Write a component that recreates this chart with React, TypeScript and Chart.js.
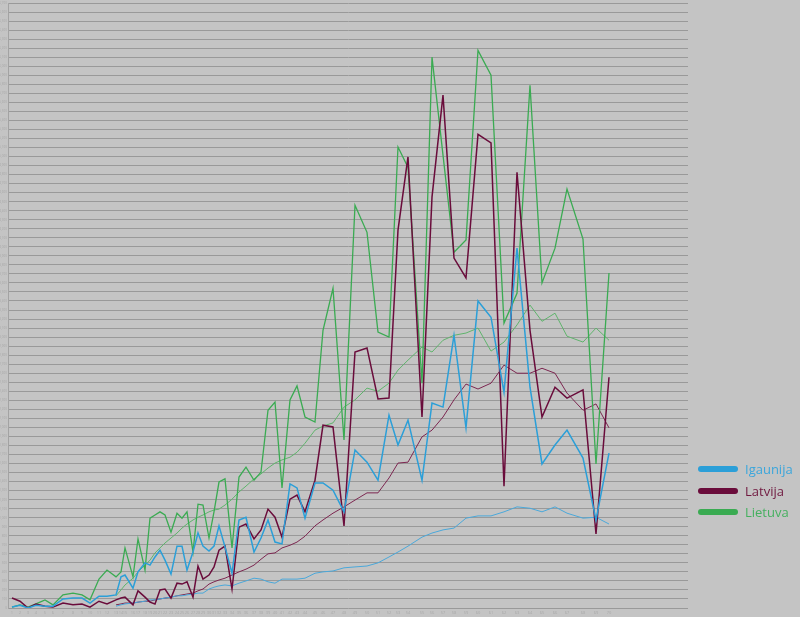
import React, { useEffect, useRef } from "react";
import { Chart, registerables } from "chart.js";

Chart.register(...registerables);

// x position of each period along the (uneven) horizontal axis
const periods = [
  4, 12, 20, 28, 37, 45, 55, 65, 74, 82, 91, 99, 108, 113, 117, 125, 130, 137, 142, 147,
  152, 157, 163, 169, 174, 179, 185, 190, 195, 201, 206, 211, 217, 224, 231, 238, 246, 253, 260, 267,
  274, 282, 289, 297, 307, 315, 325, 336, 347, 359, 370, 381, 390, 400, 414, 424, 435, 446, 458, 470,
  483, 496, 509, 522, 534, 547, 559, 575, 588, 601,
];
const periodLabels = periods.map((_, i) => String(i + 1));

const igaunija = [
  10, 30, 0, 30, 20, 20, 100, 110, 110, 55, 130, 130, 145, 345, 365, 220, 400, 500, 475, 565,
  640, 530, 375, 685, 685, 420, 620, 830, 685, 630, 685, 910, 675, 385, 975, 1005, 620, 775, 975, 730,
  710, 1375, 1330, 995, 1385, 1385, 1305, 1065, 1750, 1615, 1415, 2135, 1805, 2080, 1415, 2270, 2225, 3020, 1995, 3400,
  3220, 2390, 3985, 2445, 1595, 1805, 1970, 1660, 975, 1715,
];
const latvija = [
  110, 75, 0, 45, 20, 10, 55, 35, 45, 10, 75, 45, 90, 110, 120, 35, 190, 120, 65, 45,
  200, 210, 110, 275, 265, 290, 120, 465, 320, 365, 455, 640, 685, 210, 895, 930, 765, 865, 1095, 1005,
  785, 1205, 1250, 1065, 1415, 2025, 2005, 910, 2835, 2880, 2315, 2325, 4185, 4995, 2115, 4550, 5680, 3875, 3655, 5245,
  5150, 1350, 4825, 3075, 2115, 2445, 2325, 2415, 820, 2555,
];
const lietuva = [
  10, 35, 10, 45, 90, 35, 145, 165, 145, 90, 320, 420, 345, 400, 665, 345, 765, 420, 995, 1030,
  1065, 1030, 840, 1050, 995, 1065, 620, 1150, 1140, 775, 1065, 1395, 1430, 665, 1450, 1560, 1415, 1505, 2190, 2280,
  1330, 2305, 2460, 2115, 2060, 3075, 3540, 1860, 4460, 4160, 3055, 3000, 5105, 4880, 2490, 6100, 5015, 3940, 4075, 6175,
  5900, 3155, 3485, 5790, 3600, 3985, 4640, 4085, 1595, 3710,
];

// smoothed trend lines (start at the 13th period)
const igaunijaTrend = [
  null, null, null, null, null, null, null, null, null, null, null, null, 20, 35, 45, 55, 65, 75, 90, 90,
  100, 110, 120, 135, 135, 145, 155, 165, 165, 210, 230, 245, 255, 245, 275, 300, 330, 320, 290, 275,
  320, 320, 320, 330, 385, 400, 410, 445, 455, 465, 500, 565, 620, 685, 785, 830, 865, 885, 995, 1020,
  1020, 1065, 1120, 1105, 1065, 1120, 1050, 995, 1005, 930,
];
const latvijaTrend = [
  null, null, null, null, null, null, null, null, null, null, null, null, 35, 45, 55, 55, 65, 75, 75, 90,
  100, 110, 120, 135, 145, 155, 165, 190, 210, 265, 290, 310, 330, 365, 400, 430, 475, 540, 600, 610,
  665, 695, 730, 795, 910, 975, 1050, 1120, 1195, 1275, 1275, 1440, 1605, 1615, 1895, 1970, 2115, 2305, 2480, 2425,
  2490, 2690, 2600, 2600, 2655, 2600, 2380, 2190, 2260, 1995,
];
const lietuvaTrend = [
  null, null, null, null, null, null, null, null, null, null, null, null, 135, 200, 255, 330, 400, 475, 530, 610,
  665, 720, 775, 830, 885, 930, 975, 1005, 1030, 1065, 1085, 1095, 1140, 1205, 1285, 1350, 1430, 1485, 1550, 1605,
  1640, 1670, 1725, 1825, 1970, 2015, 2050, 2225, 2305, 2435, 2400, 2490, 2635, 2745, 2890, 2835, 2965, 3020, 3045, 3100,
  2845, 2945, 3135, 3355, 3175, 3265, 3010, 2945, 3100, 2965,
];

const BLUE = "#2b9fd8";
const MAROON = "#6a0c3b";
const GREEN = "#3aab52";

const legendItems = [
  { label: "Igaunija", color: BLUE, text: "#3aa6dc" },
  { label: "Latvija", color: MAROON, text: "#70183f" },
  { label: "Lietuva", color: GREEN, text: "#45b05f" },
];

function pts(values: (number | null)[]) {
  return periods.map((x, i) => ({ x, y: values[i] }));
}

export default function App() {
  const ref = useRef<HTMLCanvasElement | null>(null);

  useEffect(() => {
    if (!ref.current) return;
    const chart = new Chart(ref.current, {
      type: "line",
      data: {
        datasets: [
          { label: "Igaunija", data: pts(igaunija) as any, borderColor: BLUE, borderWidth: 1.5 },
          { label: "Latvija", data: pts(latvija) as any, borderColor: MAROON, borderWidth: 1.5 },
          { label: "Lietuva", data: pts(lietuva) as any, borderColor: GREEN, borderWidth: 1.3 },
          { label: "Igaunija trend", data: pts(igaunijaTrend) as any, borderColor: "#4aa8da", borderWidth: 1 },
          { label: "Latvija trend", data: pts(latvijaTrend) as any, borderColor: "#7c2650", borderWidth: 1 },
          { label: "Lietuva trend", data: pts(lietuvaTrend) as any, borderColor: "#5fb46c", borderWidth: 1 },
        ],
      },
      options: {
        animation: false,
        responsive: false,
        maintainAspectRatio: false,
        elements: { point: { radius: 0 }, line: { tension: 0 } },
        layout: { padding: { top: 3, right: 112, left: 0, bottom: 0 } },
        plugins: { legend: { display: false }, tooltip: { enabled: false } },
        scales: {
          x: {
            type: "linear",
            min: 0,
            max: 680,
            grid: { display: false, drawTicks: false },
            border: { display: false },
            afterBuildTicks: (s: any) => {
              s.ticks = periods.map((v) => ({ value: v }));
            },
            afterFit: (s: any) => {
              s.height = 9;
            },
            ticks: {
              autoSkip: false,
              maxRotation: 0,
              minRotation: 0,
              padding: 2,
              color: "#a9a9a9",
              font: { size: 4, family: "Open Sans" },
              callback: (_v: any, i: number) => periodLabels[i],
            },
          },
          y: {
            type: "linear",
            min: 0,
            max: 6700,
            grid: { color: "#999999", lineWidth: 1, drawTicks: false },
            border: { display: true, color: "#a3a3a3" },
            afterFit: (s: any) => {
              s.width = 8;
            },
            ticks: {
              stepSize: 100,
              autoSkip: false,
              padding: 1,
              color: "#a9a9a9",
              font: { size: 3, family: "Open Sans" },
            },
          },
        },
      },
    });
    return () => chart.destroy();
  }, []);

  return (
    <div
      style={{
        position: "fixed",
        left: 0,
        top: 0,
        width: 800,
        height: 617,
        background: "#c4c4c4",
        overflow: "hidden",
      }}
    >
      <canvas ref={ref} width={800} height={617} style={{ position: "absolute", left: 0, top: 0 }} />
      {legendItems.map((it, i) => (
        <div
          key={it.label}
          style={{
            position: "absolute",
            left: 698,
            top: 460 + i * 21.5,
            height: 18,
            display: "flex",
            alignItems: "center",
            fontFamily: "'Open Sans', sans-serif",
            fontSize: 13,
            color: it.text,
          }}
        >
          <div style={{ width: 40, height: 6, borderRadius: 3, background: it.color, marginRight: 7 }} />
          <span>{it.label}</span>
        </div>
      ))}
    </div>
  );
}
